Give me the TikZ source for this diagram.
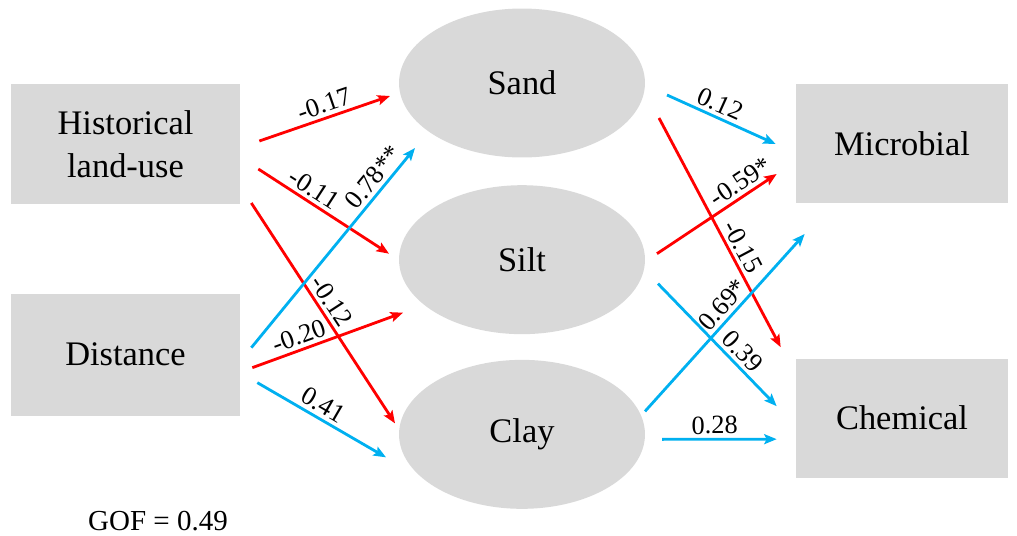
\documentclass[tikz,border=0pt]{standalone}
\usepackage{fontspec}
\setmainfont{Liberation Serif}
\usepackage{tikz}
\usetikzlibrary{shapes.geometric, arrows, arrows.meta, calc, positioning}
\definecolor{boxgray}{HTML}{D9D9D9}
\definecolor{posblue}{HTML}{00B0F0}
\definecolor{negred}{HTML}{FF0000}
\tikzstyle{block} = [rectangle, fill=boxgray, minimum width=4.58cm, minimum height=2.4cm, text centered, align=center, font=\fontsize{19.6}{24.5}\selectfont]
\tikzstyle{soil} = [ellipse, fill=boxgray, minimum width=4.92cm, minimum height=2.98cm, inner sep=0pt, font=\fontsize{19.6}{24.5}\selectfont]
\tikzstyle{negarrow} = [line width=1.6pt, -{Stealth[length=0.25cm, width=0.2cm, inset=0.05cm]}, draw=negred]
\tikzstyle{posarrow} = [line width=1.6pt, -{Stealth[length=0.25cm, width=0.2cm, inset=0.05cm]}, draw=posblue]
\tikzstyle{coef} = [above, sloped, inner sep=2pt, font=\fontsize{15}{18}\selectfont]

\begin{document}
\begin{tikzpicture}[x=0.02cm, y=-0.02cm]
	\useasboundingbox (0,0) rectangle (1017,535);
	% predictors
	\node (Hist) [block] at (125.5,144) {Historical\\land-use};
	\node (Dist) [block, minimum height=2.44cm, below = 1.78cm of Hist] {Distance};
	% soil texture
	\node (Sand) [soil] at (522,83) {Sand};
	\node (Silt) [soil, below = 0.54cm of Sand] {Silt};
	\node (Clay) [soil, below = 0.5cm of Silt] {Clay};
	% responses
	\node (Micro) [block, minimum width=4.24cm, minimum height=2.38cm] at (902,143.5) {Microbial};
	\node (Chem) [block, minimum width=4.24cm, minimum height=2.38cm, below = 3.1cm of Micro] {Chemical};
	\node (GOF) [font=\fontsize{16.5}{20}\selectfont] at (158,521) {GOF = 0.49};
	% paths from predictors
	\draw [negarrow] ($(Hist.east)+(19,-3)$) -- node[coef, pos=0.53] {-0.17} ($(Sand.center)+(-132,13)$);
	\draw [negarrow] ($(Hist.east)+(18,25)$) -- node[coef, pos=0.37] {-0.11} ($(Silt.center)+(-133,-6)$);
	\draw [negarrow] ($(Hist.east)+(11,59)$) -- node[coef, pos=0.48] {-0.12} ($(Clay.center)+(-127,-11)$);
	\draw [posarrow] ($(Dist.east)+(11,-7)$) -- node[coef, pos=0.81] {0.78**} ($(Sand.center)+(-107,65)$);
	\draw [negarrow] ($(Dist.east)+(12,13)$) -- node[coef, pos=0.34] {-0.20} ($(Silt.center)+(-119,53)$);
	\draw [posarrow] ($(Dist.east)+(17,28)$) -- node[coef, pos=0.46] {0.41} ($(Clay.center)+(-136,23)$);
	% paths to responses
	\draw [posarrow] ($(Sand.center)+(145,12)$) -- node[coef, pos=0.44] {0.12} ($(Micro.west)+(-20,0.5)$);
	\draw [negarrow] ($(Sand.center)+(137,35)$) -- node[coef, pos=0.59] {-0.15} ($(Chem.west)+(-15,-71)$);
	\draw [negarrow] ($(Silt.center)+(135,-6)$) -- node[coef, pos=0.76] {-0.59*} ($(Micro.west)+(-19,30.5)$);
	\draw [posarrow] ($(Silt.center)+(136,24)$) -- node[coef, pos=0.63] {0.39} ($(Chem.west)+(-19,-12)$);
	\draw [posarrow] ($(Clay.center)+(123,-23)$) -- node[coef, pos=0.55] {0.69*} ($(Micro.west)+(9,90.5)$);
	\draw [posarrow] ($(Clay.center)+(140,5)$) -- node[coef, pos=0.46] {0.28} ($(Chem.west)+(-19,21)$);
\end{tikzpicture}
\end{document}
